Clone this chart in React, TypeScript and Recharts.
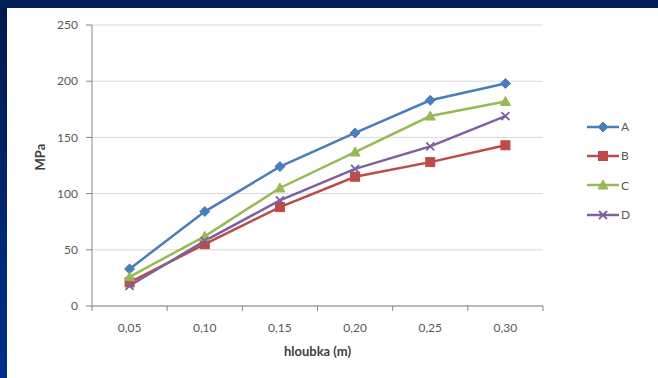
import React from 'react'
import { CartesianGrid, Line, LineChart, XAxis, YAxis } from 'recharts'

// hloubka (m) – pevnost v tlaku (MPa), čtyři vzorky
const depths = ['0,05', '0,10', '0,15', '0,20', '0,25', '0,30']
const seriesA = [33, 84, 124, 154, 183, 198]
const seriesB = [21, 55, 88, 115, 128, 143]
const seriesC = [26, 62, 105, 137, 169, 182]
const seriesD = [18, 58, 94, 122, 142, 169]
const yTicks = [0, 50, 100, 150, 200, 250]

const SERIES = [
  { key: 'A', color: '#4A7EBB', marker: 'diamond' },
  { key: 'B', color: '#BE4B48', marker: 'square' },
  { key: 'C', color: '#98B954', marker: 'triangle' },
  { key: 'D', color: '#7D60A0', marker: 'cross' },
] as const

const data = depths.map((depth, i) => ({
  depth,
  A: seriesA[i],
  B: seriesB[i],
  C: seriesC[i],
  D: seriesD[i],
}))

const FONT = 'Lato, "Open Sans", sans-serif'
const TEXT = '#595959'
const AXIS = '#868686'

function Marker({ kind, cx, cy, color }: { kind: string; cx: number; cy: number; color: string }) {
  if (kind === 'diamond') {
    const r = 5
    return <path d={`M${cx},${cy - r}L${cx + r},${cy}L${cx},${cy + r}L${cx - r},${cy}Z`} fill={color} stroke={color} strokeWidth={1} />
  }
  if (kind === 'square') {
    const r = 4.5
    return <rect x={cx - r} y={cy - r} width={r * 2} height={r * 2} fill={color} stroke={color} />
  }
  if (kind === 'triangle') {
    const r = 5
    return <path d={`M${cx},${cy - r}L${cx + r},${cy + r * 0.8}L${cx - r},${cy + r * 0.8}Z`} fill={color} stroke={color} />
  }
  const r = 4
  return <path d={`M${cx - r},${cy - r}L${cx + r},${cy + r}M${cx + r},${cy - r}L${cx - r},${cy + r}`} stroke={color} strokeWidth={1.8} fill="none" />
}

function makeDot(kind: string, color: string) {
  return (props: any) => {
    const { cx, cy, index } = props
    if (cx == null || cy == null) return <g key={index} />
    return <Marker key={index} kind={kind} cx={cx} cy={cy} color={color} />
  }
}

// category label plus Excel-style tick marks on the category boundaries
function DepthTick(props: any) {
  const { x, y, payload, index } = props
  const half = payload.offset ?? 0
  const last = index === depths.length - 1
  return (
    <g>
      <line x1={x - half} y1={y - 8} x2={x - half} y2={y - 3} stroke={AXIS} />
      {last && <line x1={x + half} y1={y - 8} x2={x + half} y2={y - 3} stroke={AXIS} />}
      <text x={x} y={y + 18} textAnchor="middle" fill={TEXT} fontSize={12} fontFamily={FONT}>
        {payload.value}
      </text>
    </g>
  )
}

function SeriesLegend() {
  return (
    <div style={{ position: 'absolute', left: 587, top: 112, display: 'flex', flexDirection: 'column' }}>
      {SERIES.map((s) => (
        <div key={s.key} style={{ display: 'flex', alignItems: 'center', height: 29.3 }}>
          <svg width={32} height={12}>
            <line x1={0} y1={6} x2={32} y2={6} stroke={s.color} strokeWidth={2.5} />
            <Marker kind={s.marker} cx={16} cy={6} color={s.color} />
          </svg>
          <span style={{ marginLeft: 2, fontFamily: FONT, fontSize: 12, color: TEXT }}>{s.key}</span>
        </div>
      ))}
    </div>
  )
}

export default function App() {
  return (
    <div style={{ position: 'absolute', left: 0, top: 0, width: 658, height: 378, background: '#00205a', overflow: 'hidden' }}>
      <div
        style={{
          position: 'absolute',
          left: 0,
          top: 8,
          width: 7,
          height: 370,
          background: 'linear-gradient(#001a4e, #00308c)',
        }}
      />
      <div style={{ position: 'absolute', left: 7, top: 8, right: 0, bottom: 0, background: '#fff' }} />
      <div style={{ position: 'absolute', left: 0, top: 0 }}>
        <LineChart width={658} height={378} data={data} margin={{ top: 25, right: 115, bottom: 0, left: 52 }}>
          <CartesianGrid vertical={false} stroke="#d9d9d9" />
          <XAxis
            dataKey="depth"
            scale="band"
            stroke={AXIS}
            tickLine={false}
            tick={<DepthTick />}
            height={72}
            interval={0}
            label={{ value: 'hloubka (m)', position: 'insideBottom', offset: 22, fill: '#404040', fontSize: 13, fontWeight: 'bold', fontFamily: FONT }}
          />
          <YAxis
            domain={[0, 250]}
            ticks={yTicks}
            stroke={AXIS}
            width={40}
            tickSize={6}
            tickMargin={8}
            tick={{ fill: TEXT, fontSize: 12, fontFamily: FONT }}
            label={{ value: 'MPa', angle: -90, position: 'insideLeft', offset: -12, dy: 5, fill: '#404040', fontSize: 13, fontWeight: 'bold', fontFamily: FONT }}
          />
          {SERIES.map((s) => (
            <Line
              key={s.key}
              dataKey={s.key}
              stroke={s.color}
              strokeWidth={2.5}
              dot={makeDot(s.marker, s.color)}
              activeDot={false}
              isAnimationActive={false}
            />
          ))}
        </LineChart>
      </div>
      <SeriesLegend />
    </div>
  )
}
